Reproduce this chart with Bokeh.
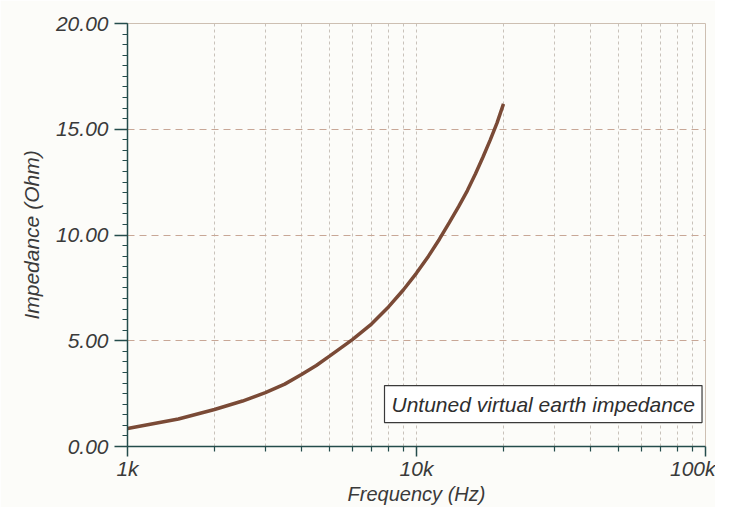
from bokeh.plotting import figure
from bokeh.models import Range1d, FixedTicker, PrintfTickFormatter, Label
from bokeh.embed import file_html
from bokeh.resources import INLINE

# Data
freq_hz = [1000, 1500, 2000, 2500, 3000, 3500, 4000, 4500, 5000, 6000, 7000,
           8000, 9000, 10000, 11000, 12000, 13000, 14000, 15000, 16000,
           17000, 18000, 19000, 20000]
impedance_ohm = [0.85, 1.3, 1.75, 2.15, 2.55, 2.95, 3.4, 3.83, 4.27, 5.05,
                 5.8, 6.6, 7.4, 8.2, 9.0, 9.8, 10.6, 11.35, 12.1, 12.9,
                 13.7, 14.5, 15.3, 16.2]

x_major = [1000, 10000, 100000]
x_minor = [2000, 3000, 4000, 5000, 6000, 7000, 8000, 9000,
           20000, 30000, 40000, 50000, 60000, 70000, 80000, 90000]
x_labels = {1000: "1k", 10000: "10k", 100000: "100k"}
y_major = [0, 5, 10, 15, 20]
y_minor = [i * 0.5 for i in range(41)]
legend_text = "Untuned virtual earth impedance"

FONT = "Liberation Sans"
BG = "#fcfcf9"
AXIS = "#244c4c"
TXT = "#3a3a3a"

p = figure(width=715, height=507, x_axis_type="log",
           x_range=Range1d(1000, 100000), y_range=Range1d(0, 20),
           output_backend="svg", toolbar_location=None,
           min_border_left=127, min_border_right=10,
           min_border_top=23, min_border_bottom=58)

p.background_fill_color = BG
p.border_fill_color = BG
p.outline_line_color = "#cdbfb2"
p.outline_line_width = 1

# x axis
xa = p.xaxis[0]
xa.ticker = FixedTicker(ticks=x_major, minor_ticks=x_minor)
xa.major_label_overrides = x_labels
xa.axis_label = "Frequency (Hz)"
# y axis
ya = p.yaxis[0]
ya.ticker = FixedTicker(ticks=y_major, minor_ticks=y_minor)
ya.formatter = PrintfTickFormatter(format="%.2f")
ya.axis_label = "Impedance (Ohm)"

for ax in (xa, ya):
    ax.axis_line_color = AXIS
    ax.axis_line_width = 1.5
    ax.major_tick_line_color = AXIS
    ax.minor_tick_line_color = AXIS
    ax.major_tick_line_width = 1.5
    ax.minor_tick_line_width = 1.2
    ax.major_tick_in = 0
    ax.major_tick_out = 13
    ax.minor_tick_in = 0
    ax.minor_tick_out = 5
    ax.major_label_text_font = FONT
    ax.major_label_text_font_style = "italic"
    ax.major_label_text_font_size = "21px"
    ax.major_label_text_color = TXT
    ax.axis_label_text_font = FONT
    ax.axis_label_text_font_style = "italic"
    ax.axis_label_text_font_size = "21px"
    ax.axis_label_text_color = TXT

xa.major_tick_out = 10
xa.major_label_standoff = 0
xa.axis_label_standoff = 0
xa.axis_label_text_font_size = "20px"
ya.major_label_standoff = 6
ya.axis_label_standoff = 10

# grids
p.xgrid.grid_line_color = "#c9c2ba"
p.xgrid.grid_line_dash = "3 3"
p.xgrid.grid_line_width = 1
p.xgrid.minor_grid_line_color = "#c9c2ba"
p.xgrid.minor_grid_line_dash = "3 3"
p.xgrid.minor_grid_line_width = 1
p.ygrid.grid_line_color = "#c8a796"
p.ygrid.grid_line_dash = "7 5"
p.ygrid.grid_line_width = 1

p.line(freq_hz, impedance_ohm, line_color="#7a4a36", line_width=3.5)

# shadow of the label box
shadow = Label(x=7750, y=1.13, text=legend_text, x_offset=2, y_offset=-2,
               text_font=FONT, text_font_style="italic", text_font_size="21px",
               text_alpha=0.0, text_align="left", text_baseline="bottom",
               background_fill_color="#3a3a3a", background_fill_alpha=1.0,
               padding=7)
p.add_layout(shadow)
lbl = Label(x=7750, y=1.13, text=legend_text,
            text_font=FONT, text_font_style="italic", text_font_size="21px",
            text_color="#2e2e2e", text_align="left", text_baseline="bottom",
            background_fill_color="#ffffff", background_fill_alpha=1.0,
            border_line_color="#3a3a3a", border_line_width=1.2, padding=7)
p.add_layout(lbl)

open("out.html", "w").write(file_html(p, INLINE))
